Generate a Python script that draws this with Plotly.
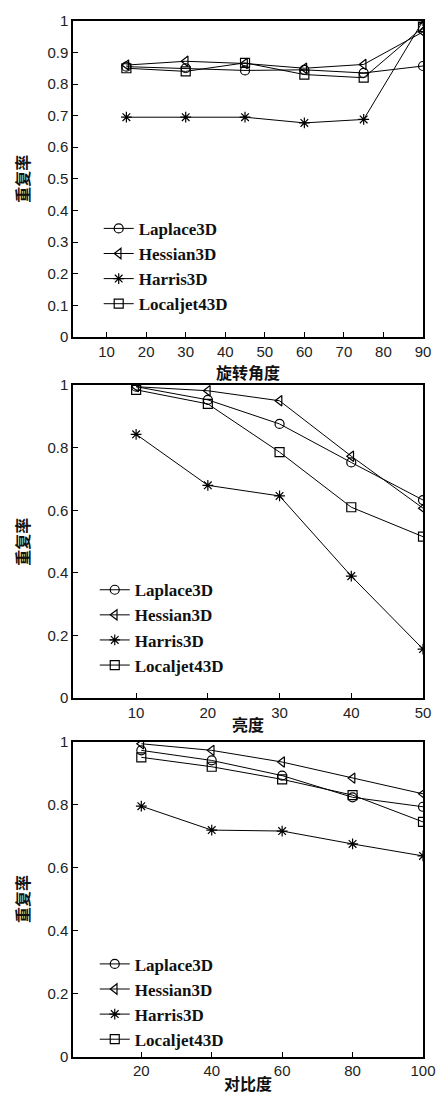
import plotly.graph_objects as go

names = ["Laplace3D", "Hessian3D", "Harris3D", "Localjet43D"]
symbols = ["circle-open", "triangle-left-open", "asterisk-open", "square-open"]

# Panel 1: rotation angle
x1 = [15, 30, 45, 60, 75, 90]
p1 = {
    "Laplace3D":   [0.855, 0.850, 0.843, 0.845, 0.835, 0.857],
    "Hessian3D":   [0.860, 0.872, 0.865, 0.850, 0.862, 0.965],
    "Harris3D":    [0.695, 0.695, 0.695, 0.677, 0.688, 1.000],
    "Localjet43D": [0.850, 0.840, 0.867, 0.830, 0.820, 0.980],
}
# Panel 2: brightness
x2 = [10, 20, 30, 40, 50]
p2 = {
    "Laplace3D":   [0.995, 0.953, 0.876, 0.753, 0.633],
    "Hessian3D":   [0.995, 0.982, 0.950, 0.773, 0.607],
    "Harris3D":    [0.843, 0.680, 0.646, 0.390, 0.157],
    "Localjet43D": [0.985, 0.940, 0.786, 0.610, 0.516],
}
# Panel 3: contrast
x3 = [20, 40, 60, 80, 100]
p3 = {
    "Laplace3D":   [0.972, 0.940, 0.892, 0.823, 0.793],
    "Hessian3D":   [0.993, 0.972, 0.935, 0.884, 0.834],
    "Harris3D":    [0.795, 0.719, 0.716, 0.675, 0.637],
    "Localjet43D": [0.950, 0.920, 0.880, 0.830, 0.745],
}

xtitles = ["旋转角度", "亮度", "对比度"]
ytitle = "重复率"
xticks = [[10, 20, 30, 40, 50, 60, 70, 80, 90], [10, 20, 30, 40, 50], [20, 40, 60, 80, 100]]
xranges = [[1.5, 90], [1.2, 50], [0.6, 100]]
ydticks = [0.1, 0.2, 0.2]

W, H = 436, 1105
L, R = 73, 9
PW = W - L - R
doms = [(12, 333), (382, 700), (744, 1064)]
leg_lefts = [99, 95, 95]
leg_tops = [205, 572, 952]

fig = go.Figure()
panels = [(x1, p1), (x2, p2), (x3, p3)]
for i, (xs, pdata) in enumerate(panels):
    ax = "" if i == 0 else str(i + 1)
    leg = "legend" if i == 0 else "legend" + str(i + 1)
    for n, s in zip(names, symbols):
        fig.add_trace(go.Scatter(
            x=xs, y=pdata[n], name=n, mode="lines+markers",
            line=dict(color="black", width=1),
            marker=dict(symbol=s, size=9, color="black", line=dict(color="black", width=1.2)),
            xaxis="x" + ax, yaxis="y" + ax, legend=leg,
        ))
    top, bot = doms[i]
    axis_common = dict(showgrid=False, zeroline=False, showline=True, linecolor="black",
                       linewidth=1.5, mirror=True, ticks="inside", ticklen=5,
                       tickcolor="black", ticklabeloverflow="allow",
                       tickfont=dict(family="Liberation Sans", size=15, color="#222"))
    fig.layout["xaxis" + ax] = dict(
        axis_common, domain=[0, 1], anchor="y" + ax, range=xranges[i],
        tickvals=xticks[i],
        title=dict(text="<b>" + xtitles[i] + "</b>",
                   font=dict(family="Noto Sans CJK SC", size=16, color="#111"), standoff=0),
    )
    fig.layout["yaxis" + ax] = dict(
        axis_common, domain=[1 - bot / H, 1 - top / H], anchor="x" + ax, range=[0, 1],
        dtick=ydticks[i], tick0=0,
        title=dict(text="<b>" + ytitle + "</b>",
                   font=dict(family="Noto Sans CJK SC", size=16, color="#111"), standoff=14),
    )
    fig.layout[leg] = dict(
        x=(leg_lefts[i] - L) / PW, y=1 - leg_tops[i] / H, xref="paper", yref="paper",
        xanchor="left", yanchor="top", bgcolor="rgba(0,0,0,0)", borderwidth=0,
        font=dict(family="Liberation Serif", size=17, color="#111", weight="bold"),
        tracegroupgap=0, itemwidth=30,
    )

fig.update_layout(
    width=W, height=H, margin=dict(l=L, r=R, t=0, b=0),
    paper_bgcolor="white", plot_bgcolor="white", showlegend=True,
)
fig.write_html("out.html", config={"displayModeBar": False},
               post_script="document.body.style.margin='0';")
